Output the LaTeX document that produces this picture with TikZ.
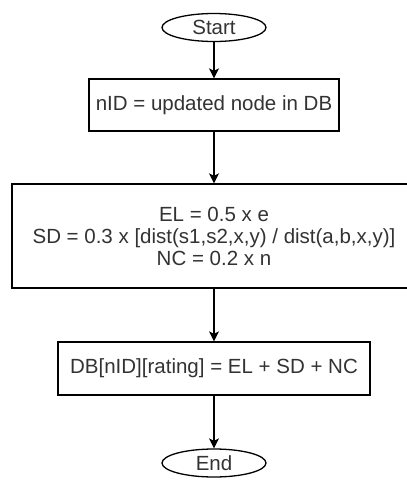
\documentclass[tikz,border=0pt]{standalone}
\usepackage{fontspec}
\setmainfont{Liberation Sans}
\usetikzlibrary{arrows.meta,shapes.geometric}
\definecolor{ink}{HTML}{333333}
\begin{document}
\begin{tikzpicture}[x=1pt,y=-1pt,
  flow/.style={draw=black, line width=1.3pt, text=ink, inner sep=0pt,
    font=\fontsize{20.5}{22}\selectfont},
  terminal/.style={flow, ellipse, minimum width=104pt, minimum height=28pt},
  process/.style={flow, rectangle, align=center},
  link/.style={draw=black, line width=1.3pt,
    -{Stealth[length=10pt,width=10pt,inset=2.5pt]}}]
\useasboundingbox[fill=white] (0,0) rectangle (407,480);

\node[terminal] (start) at (214,27.5) {Start};
\node[process, minimum width=250pt, minimum height=52pt] (upd) at (214,105)
  {nID = updated node in DB};
\node[process, minimum width=404pt, minimum height=104pt] (score) at (214,236)
  {EL = 0.5 x e\\ SD = 0.3 x [dist(s1,s2,x,y) / dist(a,b,x,y)]\\ NC = 0.2 x n};
\node[process, minimum width=312pt, minimum height=53pt] (rate) at (214,368.5)
  {DB[nID][rating] = EL + SD + NC};
\node[terminal] (stop) at (214,463) {End};

\draw[link] (start) -- (upd);
\draw[link] (upd) -- (score);
\draw[link] (score) -- (rate);
\draw[link] (rate) -- (stop);
\end{tikzpicture}
\end{document}
